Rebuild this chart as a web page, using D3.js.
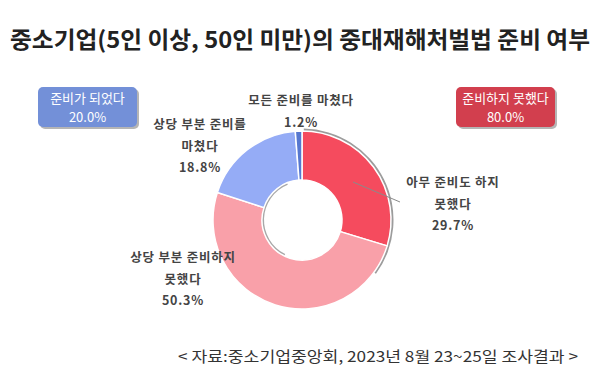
<!DOCTYPE html>
<html><head><meta charset="utf-8">
<script src="https://cdn.jsdelivr.net/npm/d3@7"></script>
<style>body{margin:0;background:#fff;}svg{display:block;}</style>
</head><body><svg id="c" width="600" height="387"></svg>
<script>
const title = "중소기업(5인 이상, 50인 미만)의 중대재해처벌법 준비 여부";
const source = "< 자료:중소기업중앙회, 2023년 8월 23~25일 조사결과 >";
const categories = [["아무 준비도 하지","못했다"],["상당 부분 준비하지","못했다"],["상당 부분 준비를","마쳤다"],["모든 준비를 마쳤다"]];
const values = [29.7, 50.3, 18.8, 1.2];
const colors = ["#F54B5E", "#F9A0A9", "#95ACF6", "#5677CF"];
const groupLabels = ["준비가 되었다", "준비하지 못했다"];
const groupValues = [20.0, 80.0];
const groupColors = ["#7390D8", "#D23F4E"];

const svg = d3.select("#c");
const font = "'Noto Sans CJK KR', 'Noto Sans', sans-serif";
svg.append("text").attr("x", 10).attr("y", 48)
  .attr("font-family", font).attr("font-weight", "bold").attr("font-size", 23).attr("fill", "#222")
  .attr("textLength", 580).attr("lengthAdjust", "spacingAndGlyphs")
  .text(title);

const cx = 302, cy = 220, R = 89, r = 40;
const g = svg.append("g").attr("transform", `translate(${cx},${cy})`);
const pie = d3.pie().sort(null).value(d => d)(values);
const arc = d3.arc().innerRadius(r).outerRadius(R);
// shadow rings
g.append("path").attr("d", d3.arc().innerRadius(R).outerRadius(R + 2.5).startAngle(0.02).endAngle(2.2)())
  .attr("fill", "#9c9c9c");
g.append("path").attr("d", d3.arc().innerRadius(r - 2).outerRadius(r).startAngle(3.6).endAngle(5.9)())
  .attr("fill", "#a8a8a8");
g.selectAll("path.s").data(pie).enter().append("path").attr("class", "s")
  .attr("d", arc).attr("fill", (d, i) => colors[i]).attr("stroke", "#fff").attr("stroke-width", 1.5);

// leader line for first slice
g.append("line").attr("x1", 51).attr("y1", -38).attr("x2", 98).attr("y2", -18)
  .attr("stroke", "#8a8a8a").attr("stroke-width", 1);

const labelPos = [[453, 187], [183, 262], [200, 129], [301, 105]];
categories.forEach((lines, i) => {
  const t = svg.append("text").attr("text-anchor", "middle").attr("font-family", font)
    .attr("font-size", 12.5).attr("font-weight", "bold").attr("fill", "#444").attr("letter-spacing", 0.8);
  const all = lines.concat([values[i].toFixed(1) + "%"]);
  const gap = 21.5;
  all.forEach((s, j) => t.append("tspan").attr("x", labelPos[i][0]).attr("y", labelPos[i][1] + j * gap).text(s));
});

const boxes = [[38, 87], [456, 87]];
groupLabels.forEach((lab, i) => {
  const [x, y] = boxes[i];
  svg.append("rect").attr("x", x + 2).attr("y", y + 2).attr("width", 99).attr("height", 40).attr("rx", 5)
    .attr("fill", "#b5b5b5");
  svg.append("rect").attr("x", x).attr("y", y).attr("width", 99).attr("height", 40).attr("rx", 5)
    .attr("fill", groupColors[i]);
  svg.append("text").attr("text-anchor", "middle").attr("font-family", font)
    .attr("font-size", 13).attr("fill", "#fff")
    .attr("x", x + 49.5).attr("y", y + 16).text(lab);
  svg.append("text").attr("text-anchor", "middle").attr("font-family", font)
    .attr("font-size", 13).attr("fill", "#fff")
    .attr("x", x + 49.5).attr("y", y + 35).text(groupValues[i].toFixed(1) + "%");
});

svg.append("text").attr("x", 178).attr("y", 362)
  .attr("font-family", font).attr("font-size", 15).attr("fill", "#333")
  .attr("textLength", 400).attr("lengthAdjust", "spacingAndGlyphs").text(source);
</script></body></html>
